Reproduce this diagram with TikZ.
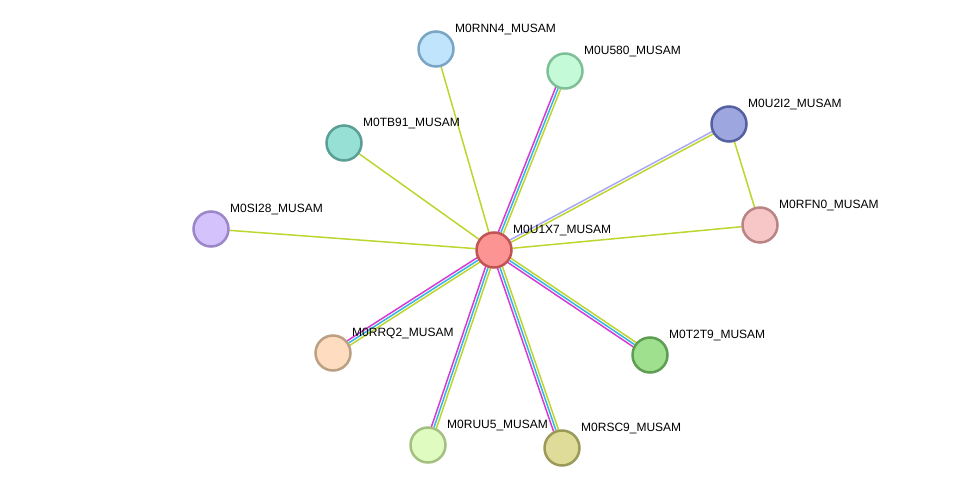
\documentclass[tikz,border=0pt]{standalone}
\usepackage{fontspec}
\setmainfont{Liberation Sans}
\usetikzlibrary{calc,backgrounds}
\definecolor{txtgreen}{HTML}{BDD52E}
\definecolor{expmag}{HTML}{D63AD6}
\definecolor{dbcyan}{HTML}{35B5E5}
\definecolor{homlav}{HTML}{A8A8F4}
\tikzstyle{prot}=[circle,minimum size=35pt,inner sep=0pt,line width=2.5pt]
\tikzstyle{lbl}=[anchor=west,inner sep=0pt,font=\fontsize{12}{14}\selectfont]
\tikzstyle{lnk}=[line width=1.5pt]
% one link, three evidence channels side by side
\newcommand{\triedge}[2]{%
  \draw[lnk,expmag] ($(#1)!2.6pt!90:(#2)$) -- ($(#2)!2.6pt!-90:(#1)$);
  \draw[lnk,dbcyan] (#1) -- (#2);
  \draw[lnk,txtgreen] ($(#1)!2.6pt!-90:(#2)$) -- ($(#2)!2.6pt!90:(#1)$);}
\newcommand{\protlbl}[2]{\node[lbl] (#1-l) at ([shift={(19,-19.5)}]#1.center) {#2};}

\begin{document}
\begin{tikzpicture}[x=1pt,y=-1pt]
  \useasboundingbox (0,0) rectangle (976,494);
  \node[prot,fill={rgb,255:red,253;green,148;blue,148},draw={rgb,255:red,192;green,84;blue,84}] (c) at (494,250) {};
  \node[prot,fill={rgb,255:red,192;green,228;blue,251},draw={rgb,255:red,122;green,166;blue,198}] (rnn4) at (436,49) {};
  \node[prot,fill={rgb,255:red,196;green,250;blue,216},draw={rgb,255:red,127;green,191;blue,152}] (u580) at (565,71) {};
  \node[prot,fill={rgb,255:red,151;green,224;blue,214},draw={rgb,255:red,90;green,158;blue,148}] (tb91) at (344,143) {};
  \node[prot,fill={rgb,255:red,158;green,166;blue,224},draw={rgb,255:red,85;green,96;blue,160}] (u2i2) at (729,124) {};
  \node[prot,fill={rgb,255:red,211;green,194;blue,251},draw={rgb,255:red,154;green,134;blue,200}] (si28) at (211,229) {};
  \node[prot,fill={rgb,255:red,247;green,199;blue,199},draw={rgb,255:red,185;green,132;blue,132}] (rfn0) at (760,225) {};
  \node[prot,fill={rgb,255:red,253;green,220;blue,192},draw={rgb,255:red,188;green,160;blue,132}] (rrq2) at (333,353) {};
  \node[prot,fill={rgb,255:red,159;green,224;blue,143},draw={rgb,255:red,94;green,157;blue,82}] (t2t9) at (650,355) {};
  \node[prot,fill={rgb,255:red,224;green,251;blue,192},draw={rgb,255:red,164;green,192;blue,128}] (ruu5) at (428,445) {};
  \node[prot,fill={rgb,255:red,222;green,220;blue,152},draw={rgb,255:red,156;green,154;blue,88}] (rsc9) at (562,448) {};

  \protlbl{c}{M0U1X7\_MUSAM}
  \protlbl{rnn4}{M0RNN4\_MUSAM}
  \protlbl{u580}{M0U580\_MUSAM}
  \protlbl{tb91}{M0TB91\_MUSAM}
  \protlbl{u2i2}{M0U2I2\_MUSAM}
  \protlbl{si28}{M0SI28\_MUSAM}
  \protlbl{rfn0}{M0RFN0\_MUSAM}
  \protlbl{rrq2}{M0RRQ2\_MUSAM}
  \protlbl{t2t9}{M0T2T9\_MUSAM}
  \protlbl{ruu5}{M0RUU5\_MUSAM}
  \protlbl{rsc9}{M0RSC9\_MUSAM}

  \begin{pgfonlayer}{background}
    \draw[lnk,txtgreen] (c) -- (rnn4);
    \draw[lnk,txtgreen] (c) -- (tb91);
    \draw[lnk,txtgreen] (c) -- (si28);
    \draw[lnk,txtgreen] (c) -- (rfn0);
    \draw[lnk,txtgreen] (u2i2) -- (rfn0);
    \draw[lnk,homlav] ($(c)!1.3pt!90:(u2i2)$) -- ($(u2i2)!1.3pt!-90:(c)$);
    \draw[lnk,txtgreen] ($(c)!1.3pt!-90:(u2i2)$) -- ($(u2i2)!1.3pt!90:(c)$);
    \triedge{c}{u580}
    \triedge{rrq2}{c}
    \triedge{ruu5}{c}
    \triedge{rsc9}{c}
    \triedge{t2t9}{c}
  \end{pgfonlayer}
\end{tikzpicture}
\end{document}
